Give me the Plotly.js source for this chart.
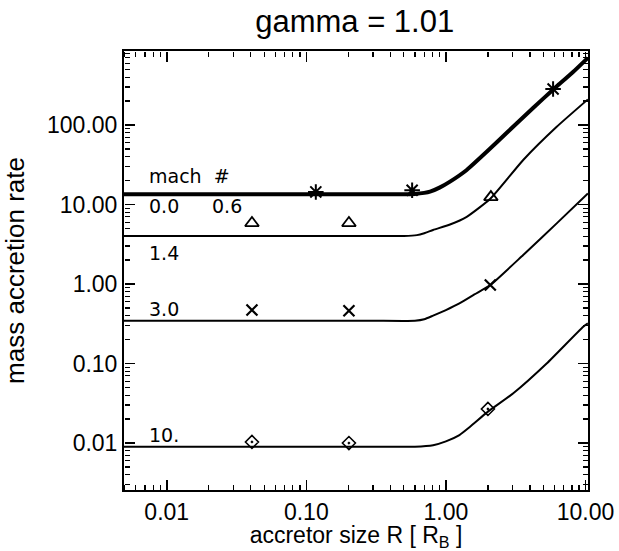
<!DOCTYPE html>
<html>
<head>
<meta charset="utf-8">
<script src="https://cdn.plot.ly/plotly-3.0.1.min.js"></script>
<style>html,body{margin:0;padding:0;background:#fff;} #chart{width:619px;height:551px;}</style>
</head>
<body>
<div id="chart"></div>
<script>
// Curves (R in units of R_B, mass accretion rate)
const curveM06_R    = [0.0049, 0.02, 0.1, 0.3, 0.5, 0.6, 0.7, 0.77, 0.9, 1.07, 1.41, 1.96, 2.73, 4.23, 5.88, 8.18, 10.4];
const curveM06_Mdot = [13.5, 13.5, 13.5, 13.5, 13.5, 13.6, 14.0, 14.5, 16.3, 19.4, 27.2, 46, 80, 165, 280, 468, 700];

const curveM14_R    = [0.0049, 0.02, 0.1, 0.3, 0.5, 0.62, 0.7, 0.81, 1.07, 1.41, 2.08, 3.58, 6.22, 10.4];
const curveM14_Mdot = [4.02, 4.02, 4.02, 4.02, 4.02, 4.12, 4.35, 4.78, 5.6, 7.0, 11.8, 36.3, 95, 210];

const curveM30_R    = [0.0049, 0.02, 0.1, 0.3, 0.6, 0.7, 0.81, 1.0, 1.25, 1.6, 2.08, 3.58, 6.22, 10.4];
const curveM30_Mdot = [0.345, 0.345, 0.345, 0.345, 0.345, 0.36, 0.40, 0.47, 0.57, 0.74, 0.97, 2.32, 5.79, 13.8];

const curveM10_R    = [0.0049, 0.02, 0.1, 0.3, 0.6, 0.81, 1.0, 1.25, 1.49, 2.0, 3.04, 5.27, 9.64, 10.4];
const curveM10_Mdot = [0.0090, 0.0090, 0.0090, 0.0090, 0.0090, 0.0094, 0.0105, 0.0126, 0.016, 0.0248, 0.0422, 0.100, 0.29, 0.32];

// Simulation points
const starR = [0.117, 0.573, 5.86];
const starMdot = [14.4, 15.1, 284];
const triR = [0.0408, 0.202, 2.1];
const triMdot = [5.85, 5.85, 12.4];
const crossR = [0.0408, 0.202, 2.08];
const crossMdot = [0.47, 0.46, 0.97];
const diaR = [0.0408, 0.202, 2.0];
const diaMdot = [0.0103, 0.0100, 0.0268];

const machLabels = ["mach  #", "0.0", "0.6", "1.4", "3.0", "10."];

const font = "Liberation Sans, Arial, Helvetica, sans-serif";
const xRange = [-2.306, 1.018];
const yRange = [-2.591, 2.931];

const traces = [
  {x: curveM06_R, y: curveM06_Mdot, mode: 'lines', line: {color: 'black', width: 4, shape: 'spline', smoothing: 0.5}},
  {x: curveM14_R, y: curveM14_Mdot, mode: 'lines', line: {color: 'black', width: 2, shape: 'spline', smoothing: 0.5}},
  {x: curveM30_R, y: curveM30_Mdot, mode: 'lines', line: {color: 'black', width: 2, shape: 'spline', smoothing: 0.5}},
  {x: curveM10_R, y: curveM10_Mdot, mode: 'lines', line: {color: 'black', width: 2, shape: 'spline', smoothing: 0.5}},
  {x: starR, y: starMdot, mode: 'markers', marker: {symbol: 'asterisk-open', size: 13, color: 'black', line: {color: 'black', width: 2}}},
  {x: triR, y: triMdot, mode: 'markers', marker: {symbol: 'triangle-up-open', size: 12, color: 'black', line: {color: 'black', width: 1.8}}},
  {x: crossR, y: crossMdot, mode: 'markers', marker: {symbol: 'x-thin-open', size: 11, color: 'black', line: {color: 'black', width: 2.2}}},
  {x: diaR, y: diaMdot, mode: 'markers', marker: {symbol: 'diamond-open-dot', size: 10, color: 'black', line: {color: 'black', width: 1.6}}},
  // empty traces so the tick-only overlay axes get drawn
  {x: [], y: [], xaxis: 'x2', yaxis: 'y2', mode: 'lines', hoverinfo: 'skip'},
  {x: [], y: [], xaxis: 'x3', yaxis: 'y3', mode: 'lines', hoverinfo: 'skip'}
];

const labelPos = [
  [0.05, 0.716], [0.05, 0.648], [0.185, 0.648], [0.05, 0.54], [0.05, 0.413], [0.05, 0.126]
];
const annotations = machLabels.map((t, i) => ({
  text: t, xref: 'paper', yref: 'paper', x: labelPos[i][0], y: labelPos[i][1],
  xanchor: 'left', yanchor: 'middle', showarrow: false,
  font: {family: "DejaVu Sans, sans-serif", size: 19, color: 'black'}
}));

const axisCommon = {
  type: 'log', showgrid: false, zeroline: false,
  showline: true, linecolor: 'black', linewidth: 2, mirror: true,
  tickmode: 'linear', tick0: 0, dtick: 1, tickformat: '.2f', ticks: '',
  tickfont: {family: font, size: 23, color: 'black'}
};
// tick-only axes placed on the frame with their "outside" pointing into the plot
const tickAxis = {
  type: 'log', showgrid: false, zeroline: false, showline: false, showticklabels: false,
  tickmode: 'linear', tick0: 0, dtick: 1,
  ticks: 'outside', ticklen: 10, tickwidth: 1.6, tickcolor: 'black',
  minor: {ticks: 'outside', ticklen: 5, tickwidth: 1.2, tickcolor: 'black', dtick: 'D1', showgrid: false},
  anchor: 'free'
};

const layout = {
  width: 619, height: 551,
  margin: {l: 124, r: 31, t: 51, b: 61},
  paper_bgcolor: 'white', plot_bgcolor: 'white',
  showlegend: false,
  title: {text: 'gamma = 1.01', x: 0.573, xanchor: 'center', y: 0.962, yanchor: 'middle',
          font: {family: font, size: 31, color: 'black'}},
  xaxis: Object.assign({}, axisCommon, {
    range: xRange, ticklabelstandoff: 0,
    title: {text: 'accretor size R [ R<sub>B</sub> ]', standoff: 1, font: {family: font, size: 23, color: 'black'}}
  }),
  yaxis: Object.assign({}, axisCommon, {
    range: yRange, ticklabelstandoff: 0,
    title: {text: 'mass accretion rate', standoff: 16, font: {family: font, size: 26, color: 'black'}}
  }),
  xaxis2: Object.assign({}, tickAxis, {overlaying: 'x', side: 'top', position: 0, range: xRange}),
  xaxis3: Object.assign({}, tickAxis, {overlaying: 'x', side: 'bottom', position: 1, range: xRange}),
  yaxis2: Object.assign({}, tickAxis, {overlaying: 'y', side: 'right', position: 0, range: yRange}),
  yaxis3: Object.assign({}, tickAxis, {overlaying: 'y', side: 'left', position: 1, range: yRange}),
  annotations: annotations
};

Plotly.newPlot('chart', traces, layout, {displayModeBar: false, staticPlot: true});
</script>
</body>
</html>
